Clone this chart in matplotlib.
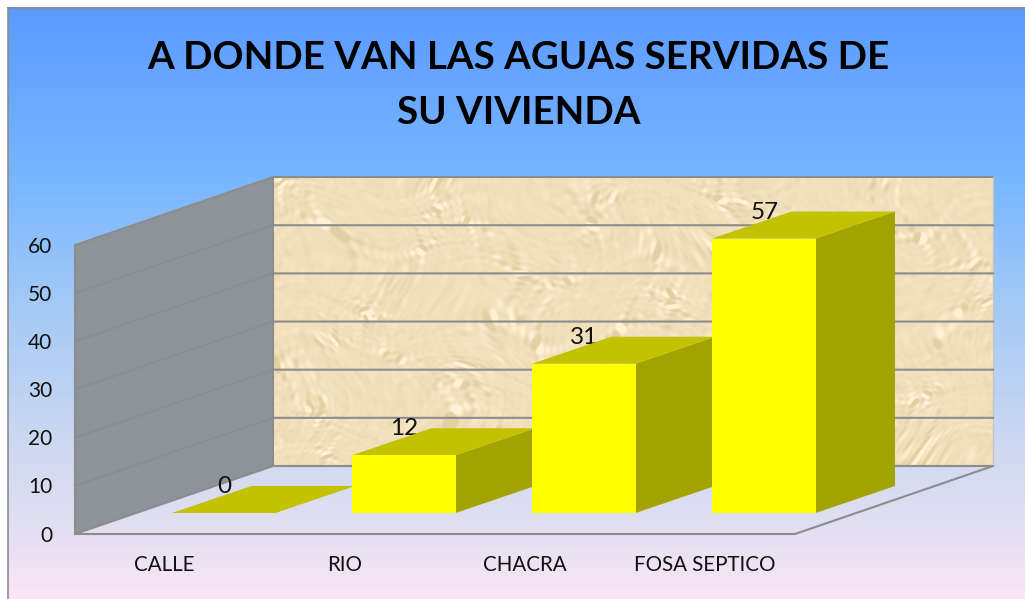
import numpy as np
import matplotlib
matplotlib.use('Agg')
import matplotlib.pyplot as plt
from matplotlib.colors import LinearSegmentedColormap
from matplotlib.patches import Polygon

title_lines = ['A DONDE VAN LAS AGUAS SERVIDAS DE', 'SU VIVIENDA']
categories = ['CALLE', 'RIO', 'CHACRA', 'FOSA SEPTICO']
values = [0, 12, 31, 57]
yticks = [0, 10, 20, 30, 40, 50, 60]

plt.rcParams['font.family'] = ['Lato', 'DejaVu Sans']

# all drawing is done in picture pixels, the fake 3d box is sheared by hand
W, H = 1025, 599
left, right = 75, 795
floor_y = 534
unit = 4.815           # pixels per value unit
depth_x, depth_y = 198, 68
bar_dx, bar_dy = 79.5, 27
bar_w = 103.5
bar_floor = 513
line_col = '#8c8c8c'

fig = plt.figure(figsize=(W / 100, H / 100), dpi=100, facecolor='white')
ax = fig.add_axes([0, 0, 1, 1])
ax.set_xlim(0, W)
ax.set_ylim(H, 0)
ax.axis('off')

# background gradient
stops = [(0.0, '#5b9bff'), (0.29, '#78b6ff'), (0.50, '#a3c9f6'),
         (0.75, '#cfd9f0'), (0.90, '#e5e0f2'), (1.0, '#fbe6f7')]
cmap = LinearSegmentedColormap.from_list('bg', stops)
grad = np.linspace(0, 1, 300).reshape(-1, 1)
ax.imshow(grad, cmap=cmap, extent=[7.5, W, H, 7.5], aspect='auto', zorder=0)
ax.plot([7.5, 7.5], [H, 7.5], color='#8c8c8c', lw=1.2, zorder=1)
ax.plot([7.5, W], [7.5, 7.5], color='#8c8c8c', lw=1.2, zorder=1)

top_y = floor_y - unit * yticks[-1]
bx0, bx1 = left + depth_x, right + depth_x
by0, by1 = floor_y - depth_y, top_y - depth_y

# sandy texture for the back wall, warped sines so it looks mottled
yy, xx = np.mgrid[0:by0 - by1, 0:bx1 - bx0]
wx = xx + 14 * np.sin(yy * 0.043 + 1.1) + 9 * np.sin(xx * 0.031 + yy * 0.02)
wy = yy + 14 * np.sin(xx * 0.037 + 0.4) + 9 * np.sin(yy * 0.051 - xx * 0.017)
tex = np.zeros(xx.shape, dtype=float)
for k in range(1, 140):
    fx = 0.03 + 0.75 * ((k * 0.6180339) % 1)
    fy = 0.03 + 0.75 * ((k * 0.7548776) % 1)
    tex += np.sin(fx * wx + k * 1.7) * np.sin(fy * wy + k * 2.3) / (1 + 2 * (fx + fy))
tex = np.clip(tex / (2.5 * tex.std()), -1, 1)
base = np.array([241, 224, 188]) / 255.0
amp = np.array([14, 17, 24]) / 255.0
img = np.clip(base[None, None, :] + tex[:, :, None] * amp[None, None, :], 0, 1)
ax.imshow(img, extent=[bx0, bx1, by0, by1], aspect='auto', zorder=1, interpolation='bilinear')
ax.set_xlim(0, W)
ax.set_ylim(H, 0)

# side wall and floor
ax.add_patch(Polygon([(left, floor_y), (left, top_y), (bx0, by1), (bx0, by0)],
                     facecolor='#8c9399', edgecolor=line_col, lw=1.5, zorder=2))
ax.plot([bx0, bx1], [by1, by1], color=line_col, lw=1.5, zorder=2)
ax.plot([bx1, bx1], [by1, by0], color='#c4c4c4', lw=1, zorder=2)
ax.plot([bx0, bx1, right, left], [by0, by0, floor_y, floor_y], color=line_col, lw=1.5, zorder=2)

for t in yticks:
    y = floor_y - unit * t
    if 0 < t < yticks[-1]:
        ax.plot([left, bx0, bx1], [y, y - depth_y, y - depth_y], color=line_col, lw=1.5, zorder=2)
    ax.text(52.5, y + 1.5, str(t), ha='right', va='center', fontsize=15, color='#111111', zorder=5)

# bars
slot = (right - left) / len(categories)
for i, (name, v) in enumerate(zip(categories, values)):
    centre = left + slot * (i + 0.5)
    x0 = centre + 7
    x1 = x0 + bar_w
    ytop = bar_floor - unit * v
    ax.text(centre - 0.5, 565, name, ha='center', va='center', fontsize=14.8, color='#111111', zorder=5)
    ax.text(centre + 59.5, ytop - 26.5, str(v), ha='center', va='center', fontsize=17.5, color='#111111', zorder=3)
    z = 4 + i * 0.1
    ax.add_patch(Polygon([(x1, bar_floor), (x1, ytop), (x1 + bar_dx, ytop - bar_dy), (x1 + bar_dx, bar_floor - bar_dy)],
                         facecolor='#a3a300', edgecolor='none', zorder=z))
    ax.add_patch(Polygon([(x0, ytop), (x1, ytop), (x1 + bar_dx, ytop - bar_dy), (x0 + bar_dx, ytop - bar_dy)],
                         facecolor='#c2c200', edgecolor='none', zorder=z))
    if v > 0:
        ax.add_patch(Polygon([(x0, bar_floor), (x1, bar_floor), (x1, ytop), (x0, ytop)],
                             facecolor='#ffff00', edgecolor='none', zorder=z))

# title
ax.text(518.5, 58, title_lines[0], ha='center', va='center', fontsize=27.7, fontweight='bold', color='black', zorder=5)
ax.text(518.5, 113, title_lines[1], ha='center', va='center', fontsize=27.7, fontweight='bold', color='black', zorder=5)

fig.savefig('out.png', dpi=100)
